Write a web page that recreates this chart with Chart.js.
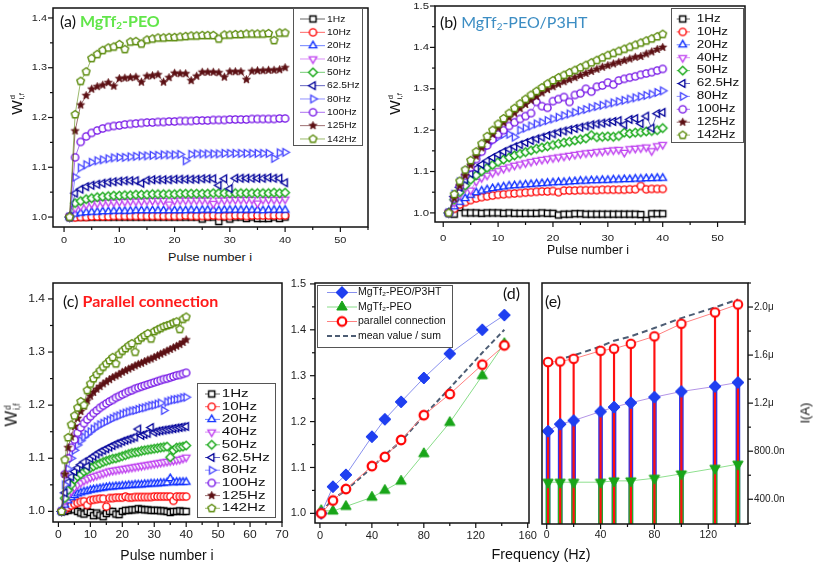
<!DOCTYPE html>
<html>
<head>
<meta charset="utf-8">
<script src="https://cdn.jsdelivr.net/npm/chart.js@4.4.1/dist/chart.umd.min.js"></script>
<style>
  body { margin: 0; background: #fff; width: 813px; height: 562px; position: relative; overflow: hidden;
         font-family: "Liberation Sans", Arial, sans-serif; color: #111; }
  canvas { position: absolute; }
  .c { position: absolute; white-space: nowrap; line-height: 1; transform: translate(-50%, -50%); }
  .c span { display: inline-block; }
  .ttl { position: absolute; white-space: nowrap; line-height: 1; transform: translateY(-50%);
         font-family: Lato, "Open Sans", sans-serif; font-size: 16px; }
  .ttl sub { font-size: 0.62em; vertical-align: -0.25em; }
  .yl { position: absolute; white-space: nowrap; line-height: 1; transform: translate(-50%, -50%) rotate(-90deg); }
  .ss { display: inline-block; vertical-align: middle; font-size: 0.5em; line-height: 1.1; margin-left: 1px; }
</style>
</head>
<body>
<canvas id="ca" width="380" height="250" style="left:0;top:0"></canvas>
<canvas id="cb" width="360" height="245" style="left:390px;top:0"></canvas>
<canvas id="cc" width="290" height="285" style="left:0;top:270px"></canvas>
<canvas id="cd" width="262" height="275" style="left:280px;top:270px"></canvas>
<canvas id="ce" width="277" height="275" style="left:536px;top:270px"></canvas>

<div class="ttl" style="left:60px;top:22px">(a) <b style="color:#62e64a">MgTf<sub>2</sub>-PEO</b></div>
<div class="ttl" style="left:440px;top:23px">(b) <span style="color:#3c8dc3">MgTf<sub>2</sub>-PEO/P3HT</span></div>
<div class="ttl" style="left:63px;top:301px">(c) <b style="color:#ff1a1a">Parallel connection</b></div>
<div class="ttl" style="left:503px;top:293px">(d)</div>
<div class="ttl" style="left:545px;top:301px">(e)</div>

<div class="yl" style="left:18px;top:104px;font-size:15.5px">W<span class="ss">d<br>i,f</span></div>
<div class="yl" style="left:396px;top:104px;font-size:15.5px">W<span class="ss">d<br>i,f</span></div>
<div class="yl" style="left:12px;top:415px;font-size:16.5px">W<span class="ss">d<br>i,f</span></div>
<div class="yl" style="left:805px;top:413px;font-size:13px">I(A)</div>

<div class="c" style="left:210px;top:257px;font-size:10.5px"><span style="transform:scaleX(1.2)">Pulse number i</span></div>
<div class="c" style="left:588px;top:250px;font-size:12.3px">Pulse number i</div>
<div class="c" style="left:167px;top:555px;font-size:14px">Pulse number i</div>
<div class="c" style="left:541px;top:554px;font-size:14.4px">Frequency (Hz)</div>

<script>
// ---- data ----
const pulses = [1,2,3,4,5,6,7,8,9,10,11,12,13,14,15,16,17,18,19,20,
                21,22,23,24,25,26,27,28,29,30,31,32,33,34,35,36,37,38,39,40];
const freqLabels = ['1Hz','10Hz','20Hz','40Hz','50Hz','62.5Hz','80Hz','100Hz','125Hz','142Hz'];
const freqs = [1, 10, 20, 40, 50, 62.5, 80, 100, 125, 142];

// (a) MgTf2-PEO
const peo_1 = [1.0,1.0,1.0,1.0,1.0,1.0,1.0,1.0,1.0,1.0, 1.0,1.0,1.0,1.0,1.0,1.0,1.0,1.0,1.0,1.0,
               1.0,1.0,1.0,1.0,0.996,1.0,1.0,0.991,1.0,0.996, 1.0,1.0,0.997,1.0,0.997,0.997,0.997,1.0,0.997,1.0];
const peo_10 = [1.0,0.999,1.0,1.0,1.001,1.001,1.001,1.001,1.002,1.002, 1.002,1.002,1.002,1.002,1.002,1.002,1.002,1.002,1.002,1.002,
                1.002,1.003,1.002,1.002,1.002,1.002,1.003,1.002,1.002,1.002, 1.003,1.003,1.002,1.003,1.003,1.003,1.003,1.003,1.003,1.003];
const peo_20 = [1.0,1.006,1.008,1.009,1.01,1.01,1.011,1.011,1.012,1.012, 1.012,1.012,1.013,1.013,1.013,1.013,1.013,1.013,1.013,1.013,
                1.013,1.013,1.014,1.013,1.014,1.014,1.014,1.013,1.014,1.014, 1.014,1.014,1.014,1.014,1.014,1.013,1.014,1.014,1.014,1.014];
const peo_40 = [1.0,1.018,1.022,1.025,1.027,1.028,1.029,1.03,1.03,1.031, 1.031,1.032,1.032,1.032,1.033,1.033,1.033,1.033,1.026,1.033,
                1.034,1.034,1.034,1.034,1.034,1.034,1.027,1.034,1.034,1.035, 1.035,1.035,1.035,1.035,1.028,1.035,1.035,1.035,1.035,1.036];
const peo_50 = [1.0,1.028,1.032,1.036,1.038,1.04,1.041,1.042,1.043,1.043, 1.044,1.044,1.045,1.045,1.045,1.046,1.046,1.046,1.046,1.046,
                1.047,1.047,1.047,1.047,1.047,1.047,1.048,1.048,1.048,1.048, 1.048,1.048,1.048,1.048,1.048,1.048,1.048,1.049,1.048,1.049];
const peo_62 = [1.0,1.048,1.056,1.061,1.064,1.066,1.068,1.07,1.071,1.072, 1.073,1.073,1.073,1.068,1.074,1.075,1.075,1.075,1.075,1.076,
                1.076,1.076,1.076,1.076,1.077,1.077,1.077,1.064,1.077,1.057, 1.078,1.078,1.078,1.078,1.078,1.078,1.079,1.078,1.078,1.069];
const peo_80 = [1.0,1.08,1.099,1.105,1.11,1.113,1.115,1.117,1.119,1.12, 1.12,1.121,1.122,1.123,1.123,1.124,1.124,1.125,1.125,1.125,
                1.126,1.113,1.126,1.127,1.127,1.127,1.127,1.127,1.128,1.128, 1.128,1.128,1.128,1.128,1.128,1.128,1.128,1.118,1.129,1.13];
const peo_100 = [1.0,1.12,1.151,1.162,1.169,1.174,1.178,1.181,1.183,1.184, 1.186,1.187,1.188,1.189,1.19,1.19,1.191,1.191,1.192,1.192,
                 1.193,1.193,1.193,1.194,1.194,1.194,1.195,1.195,1.195,1.196, 1.196,1.196,1.196,1.197,1.197,1.197,1.197,1.197,1.198,1.198];
const peo_125 = [1.0,1.173,1.225,1.244,1.257,1.262,1.265,1.27,1.263,1.278, 1.279,1.28,1.281,1.271,1.283,1.284,1.286,1.271,1.28,1.289,
                 1.288,1.288,1.274,1.283,1.291,1.291,1.291,1.29,1.281,1.292, 1.292,1.292,1.276,1.293,1.294,1.294,1.295,1.295,1.296,1.3];
const peo_142 = [1.0,1.206,1.273,1.292,1.319,1.327,1.335,1.34,1.342,1.347, 1.337,1.352,1.353,1.348,1.356,1.358,1.36,1.36,1.361,1.361,
                 1.362,1.363,1.364,1.364,1.365,1.365,1.365,1.358,1.366,1.366, 1.367,1.367,1.368,1.368,1.368,1.368,1.369,1.355,1.37,1.37];

// (b) MgTf2-PEO/P3HT
const p3_1 = [1.0,0.997,1.013,1.0,1.0,1.0,0.999,1.0,1.0,1.0, 0.999,1.0,0.999,0.999,0.999,0.999,0.999,1.0,0.999,0.999,
              0.995,0.997,0.997,0.998,0.998,0.997,0.997,0.997,0.997,0.997, 0.997,0.997,0.997,0.997,0.997,0.996,0.982,0.998,0.998,0.998];
const p3_10 = [1.0,1.01,1.02,1.026,1.031,1.035,1.038,1.04,1.042,1.044, 1.045,1.046,1.047,1.048,1.049,1.05,1.051,1.052,1.052,1.053,
               1.05,1.054,1.054,1.054,1.055,1.055,1.055,1.055,1.056,1.056, 1.056,1.056,1.056,1.057,1.057,1.065,1.057,1.058,1.058,1.058];
const p3_20 = [1.0,1.015,1.026,1.035,1.043,1.049,1.053,1.056,1.059,1.061, 1.063,1.065,1.066,1.067,1.068,1.069,1.07,1.071,1.072,1.073,
               1.074,1.074,1.075,1.076,1.077,1.077,1.078,1.078,1.079,1.079, 1.08,1.08,1.081,1.081,1.082,1.082,1.083,1.083,1.084,1.084];
const p3_40 = [1.0,1.025,1.043,1.06,1.055,1.076,1.085,1.091,1.097,1.102, 1.107,1.111,1.115,1.118,1.121,1.124,1.127,1.129,1.131,1.133,
               1.135,1.137,1.139,1.141,1.143,1.145,1.146,1.148,1.149,1.151, 1.152,1.153,1.146,1.155,1.156,1.157,1.159,1.15,1.162,1.165];
const p3_50 = [1.0,1.032,1.05,1.066,1.08,1.091,1.101,1.109,1.116,1.123, 1.129,1.134,1.139,1.143,1.147,1.151,1.155,1.158,1.161,1.164,
               1.167,1.17,1.172,1.175,1.178,1.18,1.188,1.183,1.184,1.185, 1.184,1.186,1.194,1.192,1.194,1.195,1.197,1.198,1.2,1.205];
const p3_62 = [1.0,1.04,1.062,1.08,1.095,1.107,1.117,1.126,1.134,1.141, 1.148,1.154,1.16,1.165,1.17,1.175,1.179,1.183,1.187,1.191,
               1.195,1.198,1.201,1.204,1.207,1.21,1.213,1.215,1.217,1.219, 1.221,1.223,1.213,1.226,1.228,1.216,1.234,1.205,1.24,1.243];
const p3_80 = [1.0,1.045,1.075,1.1,1.12,1.138,1.153,1.165,1.175,1.183, 1.19,1.19,1.183,1.2,1.205,1.21,1.215,1.219,1.223,1.227,
               1.231,1.235,1.239,1.243,1.247,1.25,1.254,1.257,1.26,1.263, 1.266,1.269,1.272,1.275,1.278,1.281,1.284,1.287,1.291,1.295];
const p3_100 = [1.0,1.035,1.065,1.09,1.11,1.13,1.148,1.163,1.177,1.19, 1.2,1.21,1.219,1.227,1.234,1.241,1.268,1.258,1.254,1.27,
                1.275,1.28,1.268,1.285,1.289,1.3,1.293,1.305,1.308,1.315, 1.31,1.32,1.324,1.327,1.33,1.334,1.337,1.34,1.344,1.348];
const p3_125 = [1.0,1.035,1.065,1.09,1.115,1.137,1.157,1.175,1.19,1.205, 1.218,1.23,1.241,1.252,1.262,1.272,1.281,1.29,1.298,1.305,
                1.311,1.317,1.322,1.327,1.332,1.337,1.342,1.347,1.352,1.356, 1.36,1.364,1.368,1.372,1.376,1.378,1.384,1.389,1.395,1.4];
const p3_142 = [1.0,1.045,1.077,1.104,1.127,1.148,1.167,1.185,1.2,1.215, 1.228,1.241,1.253,1.264,1.275,1.285,1.294,1.303,1.312,1.32,
                1.327,1.333,1.339,1.345,1.351,1.357,1.363,1.369,1.375,1.381, 1.386,1.391,1.396,1.401,1.406,1.411,1.416,1.421,1.426,1.432];

// (c) parallel connection
const par_1 = [1.0,1.0,1.002,1.005,1.003,1.0,0.997,0.995,1.0,0.998, 0.992,0.997,0.993,0.99,0.996,1.0,1.0,0.995,0.994,1.0,
               1.002,1.002,1.003,1.003,1.005,1.004,1.003,1.003,1.002,1.002, 1.002,1.001,1.001,1.0,0.998,1.0,1.0,1.001,1.0,1.0];
const par_10 = [1.0,1.004,1.008,1.011,1.014,1.016,1.018,1.019,1.012,1.021, 1.022,1.023,1.024,1.024,1.009,1.025,1.025,1.026,1.026,1.026,
                1.028,1.026,1.026,1.027,1.027,1.027,1.027,1.027,1.027,1.028, 1.028,1.028,1.028,1.028,1.028,1.02,1.028,1.028,1.028,1.028];
const par_20 = [1.0,1.012,1.02,1.026,1.03,1.033,1.035,1.037,1.038,1.04, 1.041,1.042,1.043,1.044,1.045,1.046,1.046,1.047,1.047,1.048,
                1.048,1.049,1.049,1.05,1.05,1.05,1.051,1.051,1.052,1.052, 1.052,1.053,1.053,1.054,1.062,1.054,1.055,1.055,1.055,1.055];
const par_40 = [1.0,1.02,1.03,1.038,1.045,1.05,1.054,1.058,1.061,1.064, 1.066,1.068,1.07,1.072,1.074,1.076,1.077,1.078,1.079,1.08,
                1.081,1.082,1.083,1.084,1.085,1.086,1.087,1.088,1.089,1.09, 1.091,1.092,1.093,1.094,1.095,1.096,1.097,1.098,1.1,1.102];
const par_50 = [1.0,1.025,1.04,1.05,1.06,1.066,1.07,1.075,1.078,1.082, 1.085,1.088,1.09,1.093,1.095,1.097,1.099,1.1,1.102,1.104,
                1.106,1.108,1.11,1.111,1.112,1.114,1.115,1.116,1.117,1.118, 1.119,1.12,1.121,1.122,1.102,1.115,1.12,1.121,1.122,1.124];
const par_62 = [1.0,1.035,1.055,1.065,1.075,1.082,1.088,1.093,1.085,1.1, 1.104,1.108,1.112,1.115,1.118,1.121,1.124,1.127,1.129,1.132,
                1.134,1.136,1.138,1.14,1.155,1.143,1.145,1.147,1.158,1.149, 1.151,1.152,1.153,1.154,1.155,1.156,1.157,1.158,1.159,1.16];
const par_80 = [1.0,1.05,1.08,1.1,1.115,1.125,1.133,1.14,1.145,1.15, 1.155,1.159,1.163,1.166,1.169,1.172,1.175,1.178,1.18,1.183,
                1.185,1.187,1.189,1.19,1.192,1.194,1.195,1.197,1.199,1.2, 1.202,1.204,1.19,1.206,1.208,1.21,1.211,1.212,1.214,1.215];
const par_100 = [1.0,1.07,1.1,1.12,1.135,1.148,1.158,1.166,1.173,1.179, 1.185,1.19,1.195,1.199,1.203,1.207,1.21,1.214,1.217,1.22,
                 1.223,1.226,1.228,1.231,1.233,1.235,1.237,1.239,1.241,1.243, 1.245,1.247,1.249,1.25,1.252,1.254,1.256,1.257,1.259,1.261];
const par_125 = [1.0,1.07,1.12,1.14,1.16,1.175,1.188,1.198,1.208,1.217, 1.224,1.23,1.235,1.24,1.244,1.248,1.252,1.255,1.258,1.262,
                 1.265,1.268,1.271,1.274,1.277,1.279,1.282,1.285,1.287,1.29, 1.293,1.296,1.299,1.302,1.305,1.308,1.311,1.314,1.318,1.323];
const par_142 = [1.0,1.097,1.139,1.163,1.18,1.195,1.207,1.2,1.228,1.24, 1.25,1.258,1.265,1.272,1.278,1.284,1.29,1.278,1.296,1.302,
                 1.307,1.312,1.316,1.3,1.322,1.327,1.331,1.335,1.325,1.339, 1.342,1.345,1.348,1.35,1.352,1.355,1.357,1.343,1.362,1.366];

// (d) final W vs frequency
const d_p3ht = [1.0, 1.058, 1.084, 1.167, 1.205, 1.243, 1.295, 1.348, 1.40, 1.432];
const d_peo  = [1.006, 1.005, 1.015, 1.035, 1.05, 1.07, 1.13, 1.198, 1.30, 1.37];
const d_par  = [1.0, 1.028, 1.053, 1.103, 1.123, 1.16, 1.214, 1.26, 1.324, 1.366];
const d_mean = [1.003, 1.031, 1.05, 1.10, 1.127, 1.157, 1.213, 1.273, 1.35, 1.40];

// (e) current, in microamps
const e_par  = [1.542, 1.547, 1.569, 1.636, 1.653, 1.694, 1.756, 1.861, 1.955, 2.022];
const e_p3ht = [0.967, 1.025, 1.055, 1.13, 1.167, 1.203, 1.25, 1.297, 1.339, 1.372];
const e_peo  = [0.542, 0.542, 0.542, 0.542, 0.553, 0.553, 0.575, 0.611, 0.658, 0.692];
const e_sum  = [1.509, 1.567, 1.597, 1.672, 1.72, 1.756, 1.825, 1.908, 1.997, 2.064];

// ---- styles ----
const looks = [
  { shape: 'square', color: '#000000' },
  { shape: 'circle', color: '#ff0000' },
  { shape: 'up', color: '#1030ff' },
  { shape: 'down', color: '#c044f0' },
  { shape: 'diamond', color: '#17a817' },
  { shape: 'left', color: '#00009a' },
  { shape: 'right', color: '#4848ff' },
  { shape: 'circle', color: '#7412e6' },
  { shape: 'star', color: '#5c1014', fill: true },
  { shape: 'pent', color: '#5a8a0a' }
];

function mk(shape, color, r, lw, filled) {
  const s = Math.ceil(2 * r * 1.3 + lw + 2);
  const c = document.createElement('canvas');
  c.width = s; c.height = s;
  const g = c.getContext('2d');
  const m = s / 2;
  const poly = (n, rr, a0, inner) => {
    const k = inner ? n * 2 : n;
    for (let j = 0; j < k; j++) {
      const rad = (a0 + j * 360 / k) * Math.PI / 180;
      const q = inner && j % 2 ? rr * inner : rr;
      const px = m + q * Math.cos(rad), py = m + q * Math.sin(rad);
      j ? g.lineTo(px, py) : g.moveTo(px, py);
    }
    g.closePath();
  };
  g.beginPath();
  if (shape === 'circle') g.arc(m, m, r, 0, Math.PI * 2);
  else if (shape === 'square') g.rect(m - r * 0.85, m - r * 0.85, r * 1.7, r * 1.7);
  else if (shape === 'up') poly(3, r * 1.2, -90);
  else if (shape === 'down') poly(3, r * 1.2, 90);
  else if (shape === 'left') poly(3, r * 1.2, 180);
  else if (shape === 'right') poly(3, r * 1.2, 0);
  else if (shape === 'diamond') poly(4, r * 1.2, -90);
  else if (shape === 'pent') poly(5, r * 1.1, -90);
  else if (shape === 'star') poly(5, r * 1.15, -90, 0.45);
  g.fillStyle = filled ? color : '#fff';
  g.fill();
  g.lineWidth = filled && shape === 'star' ? 0.8 : lw;
  g.strokeStyle = color;
  g.stroke();
  return c;
}

const pts = (xs, ys) => xs.map((x, i) => ({ x: x, y: ys[i] }));

function pulseSets(arrs, r) {
  return arrs.map((ys, i) => ({
    label: freqLabels[i],
    data: pts(pulses, ys),
    borderColor: looks[i].color + '99',
    borderWidth: 1,
    pointStyle: mk(looks[i].shape, looks[i].color, r, 1.4, looks[i].fill),
    pointRadius: r,
    order: -i
  }));
}

function scale(min, max, step, pos) {
  return {
    type: 'linear', position: pos, min: min, max: max, offset: false,
    ticks: { display: false, stepSize: step, includeBounds: false },
    grid: { display: false }, border: { display: false },
    afterFit: s => { if (s.isHorizontal()) s.height = 0; else s.width = 0; }
  };
}

// frame, tick marks and tick labels
function axesPlugin(axes) {
  return {
    id: 'axesDraw',
    afterDraw(chart) {
      const { ctx, chartArea: a, scales } = chart;
      ctx.save();
      ctx.strokeStyle = '#111';
      ctx.lineWidth = 1.5;
      ctx.strokeRect(a.left, a.top, a.right - a.left, a.bottom - a.top);
      axes.forEach(ax => {
        const s = scales[ax.id];
        const base = ax.side === 'bottom' ? a.bottom : ax.side === 'left' ? a.left : a.right;
        const dir = ax.side === 'left' ? -1 : 1;
        const mark = (p, len) => {
          ctx.beginPath();
          if (ax.side === 'bottom') { ctx.moveTo(p, base); ctx.lineTo(p, base + len); }
          else { ctx.moveTo(base, p); ctx.lineTo(base + dir * len, p); }
          ctx.stroke();
        };
        ctx.lineWidth = 1.2;
        ctx.strokeStyle = '#111';
        const majors = s.ticks.map(t => t.value);
        majors.forEach(v => mark(s.getPixelForValue(v), 5));
        for (let v = Math.ceil(s.min / ax.minor) * ax.minor; v <= s.max; v += ax.minor) {
          if (majors.some(m => Math.abs(m - v) < ax.minor / 100)) continue;
          mark(s.getPixelForValue(v), 3);
        }
        ctx.fillStyle = '#222';
        ctx.font = ax.font;
        ctx.textBaseline = 'middle';
        majors.forEach(v => {
          const p = s.getPixelForValue(v);
          ctx.save();
          if (ax.side === 'bottom') { ctx.translate(p, base + ax.off); ctx.textAlign = 'center'; }
          else if (ax.side === 'left') { ctx.translate(base - ax.off, p); ctx.textAlign = 'right'; }
          else { ctx.translate(base + ax.off, p); ctx.textAlign = 'left'; }
          ctx.scale(ax.sx || 1, 1);
          ctx.fillText(ax.fmt(v), 0, 0);
          ctx.restore();
        });
      });
      ctx.restore();
    }
  };
}

function boxLegend(cfg) {
  return {
    id: 'boxLegend',
    afterDraw(chart) {
      const ctx = chart.ctx;
      ctx.save();
      ctx.fillStyle = '#fff';
      ctx.fillRect(cfg.x, cfg.y, cfg.w, cfg.h);
      ctx.strokeStyle = '#555';
      ctx.lineWidth = 1;
      ctx.strokeRect(cfg.x + 0.5, cfg.y + 0.5, cfg.w, cfg.h);
      chart.data.datasets.filter(ds => !ds.noLegend).forEach((ds, i) => {
        const yy = cfg.row0 + i * cfg.rowH;
        ctx.strokeStyle = ds.borderColor;
        ctx.lineWidth = ds.borderWidth || 1;
        ctx.setLineDash(ds.borderDash || []);
        ctx.beginPath(); ctx.moveTo(cfg.l0, yy); ctx.lineTo(cfg.l1, yy); ctx.stroke();
        ctx.setLineDash([]);
        const im = ds.pointStyle;
        if (im && typeof im === 'object') ctx.drawImage(im, cfg.mx - im.width / 2, yy - im.height / 2);
        ctx.save();
        ctx.translate(cfg.tx, yy);
        ctx.scale(cfg.sx || 1, 1);
        ctx.font = cfg.font;
        ctx.fillStyle = '#111';
        ctx.textBaseline = 'middle';
        ctx.textAlign = 'left';
        ctx.fillText(ds.label, 0, 0);
        ctx.restore();
      });
      ctx.restore();
    }
  };
}

function makeChart(id, pad, scales, datasets, plugins) {
  return new Chart(document.getElementById(id), {
    type: 'line',
    data: { datasets: datasets },
    options: {
      responsive: false, animation: false, devicePixelRatio: 1,
      layout: { padding: pad },
      plugins: { legend: { display: false }, tooltip: { enabled: false } },
      scales: scales
    },
    plugins: plugins
  });
}

const f1 = v => v.toFixed(1);
const f0 = v => String(Math.round(v));
const fA = v => v >= 1 ? v.toFixed(1) + 'μ' : (v * 1000).toFixed(1) + 'n';
const smallFont = '9.5px "Liberation Sans", Arial, sans-serif';

// (a)
makeChart('ca', { left: 53, top: 8, right: 12, bottom: 23 },
  { x: scale(-2, 55, 10, 'bottom'), y: scale(0.98, 1.42, 0.1, 'left') },
  pulseSets([peo_1, peo_10, peo_20, peo_40, peo_50, peo_62, peo_80, peo_100, peo_125, peo_142], 3.6),
  [axesPlugin([
     { id: 'x', side: 'bottom', font: smallFont, sx: 1.15, off: 13, minor: 5, fmt: f0 },
     { id: 'y', side: 'left', font: smallFont, sx: 1.15, off: 6, minor: 0.05, fmt: f1 }]),
   boxLegend({ x: 293, y: 8, w: 69, h: 137, row0: 19, rowH: 13.33, l0: 300, l1: 325, mx: 313, tx: 327,
               font: '9.8px "Liberation Sans", Arial, sans-serif', sx: 1.05 })]);

// (b)
makeChart('cb', { left: 45, top: 6, right: 4, bottom: 23 },
  { x: scale(-1.5, 55, 10, 'bottom'), y: scale(0.978, 1.5, 0.1, 'left') },
  pulseSets([p3_1, p3_10, p3_20, p3_40, p3_50, p3_62, p3_80, p3_100, p3_125, p3_142], 3.6),
  [axesPlugin([
     { id: 'x', side: 'bottom', font: smallFont, sx: 1.2, off: 16, minor: 5, fmt: f0 },
     { id: 'y', side: 'left', font: smallFont, sx: 1.2, off: 6, minor: 0.05, fmt: f1 }]),
   boxLegend({ x: 281, y: 8, w: 72, h: 134, row0: 19, rowH: 12.9, l0: 286.7, l1: 300, mx: 292.7, tx: 306.7,
               font: '10.5px "Liberation Sans", Arial, sans-serif', sx: 1.28 })]);

// (c)
makeChart('cc', { left: 53, top: 13, right: 8, bottom: 33 },
  { x: scale(-1.7, 70, 10, 'bottom'), y: scale(0.98, 1.43, 0.1, 'left') },
  pulseSets([par_1, par_10, par_20, par_40, par_50, par_62, par_80, par_100, par_125, par_142], 3.6),
  [axesPlugin([
     { id: 'x', side: 'bottom', font: '10.5px "Liberation Sans", Arial, sans-serif', sx: 1.15, off: 13, minor: 5, fmt: f0 },
     { id: 'y', side: 'left', font: '10.5px "Liberation Sans", Arial, sans-serif', sx: 1.15, off: 8, minor: 0.05, fmt: f1 }]),
   boxLegend({ x: 197, y: 113, w: 78, h: 134, row0: 124, rowH: 12.7, l0: 205, l1: 220, mx: 211.7, tx: 221.7,
               font: '11px "Liberation Sans", Arial, sans-serif', sx: 1.38 })]);

// (d)
makeChart('cd', { left: 35, top: 13, right: 13, bottom: 22 },
  { x: scale(-3.8, 161, 40, 'bottom'), y: scale(0.979, 1.502, 0.1, 'left') },
  [
    { label: 'MgTf₂-PEO/P3HT', data: pts(freqs, d_p3ht), borderColor: '#8890ee', borderWidth: 1,
      pointStyle: mk('diamond', '#1f3ff0', 5, 1, true), pointRadius: 5, order: 1 },
    { label: 'MgTf₂-PEO', data: pts(freqs, d_peo), borderColor: '#88dd88', borderWidth: 1,
      pointStyle: mk('up', '#19a519', 5, 1, true), pointRadius: 5, order: 2 },
    { label: 'parallel connection', data: pts(freqs, d_par), borderColor: '#ff8080', borderWidth: 1,
      pointStyle: mk('circle', '#ff0000', 4.3, 2.2, false), pointRadius: 5, order: 0 },
    { label: 'mean value / sum', data: pts(freqs, d_mean), borderColor: '#4d5d74', borderWidth: 2,
      borderDash: [5, 3], pointRadius: 0, order: 3 }
  ],
  [axesPlugin([
     { id: 'x', side: 'bottom', font: '11px "Liberation Sans", Arial, sans-serif', off: 12.5, minor: 20, fmt: f0 },
     { id: 'y', side: 'left', font: '11px "Liberation Sans", Arial, sans-serif', off: 9, minor: 0.05, fmt: f1 }]),
   boxLegend({ x: 37, y: 15, w: 135, h: 62, row0: 22.5, rowH: 14.5, l0: 47, l1: 77, mx: 62, tx: 78,
               font: '10.5px "Liberation Sans", Arial, sans-serif' })]);

// (e)
makeChart('ce', { left: 6, top: 13, right: 65, bottom: 21 },
  { x: scale(-3.5, 149.5, 40, 'bottom'), y: scale(0.194, 2.2, 0.4, 'right') },
  [
    { label: 'parallel', data: pts(freqs, e_par), borderColor: '#ff8080', borderWidth: 1,
      pointStyle: mk('circle', '#ff0000', 4.3, 2, false), pointRadius: 5, order: 0 },
    { label: 'P3HT', data: pts(freqs, e_p3ht), borderColor: '#b394e6', borderWidth: 1,
      pointStyle: mk('diamond', '#1f3ff0', 5, 1, true), pointRadius: 5, order: 1 },
    { label: 'PEO', data: pts(freqs, e_peo), borderColor: '#8fe08f', borderWidth: 1,
      pointStyle: mk('down', '#19a519', 5, 1, true), pointRadius: 5, order: 2 },
    { label: 'sum', data: pts(freqs, e_sum), borderColor: '#4d5d74', borderWidth: 2,
      borderDash: [6, 4], pointRadius: 0, order: 3 },
    { type: 'bar', label: 'par drop', data: pts(freqs, e_par), backgroundColor: '#ff1010',
      barThickness: 1.5, grouped: false, order: 4 },
    { type: 'bar', label: 'peo drop', data: pts(freqs, e_peo), backgroundColor: '#22b022',
      barThickness: 4, grouped: false, order: 5 },
    { type: 'bar', label: 'p3ht drop', data: pts(freqs, e_p3ht), backgroundColor: '#3434e6',
      barThickness: 4, grouped: false, order: 6 }
  ],
  [axesPlugin([
     { id: 'x', side: 'bottom', font: '10.5px "Liberation Sans", Arial, sans-serif', off: 11.5, minor: 20, fmt: f0 },
     { id: 'y', side: 'right', font: '10px "Liberation Sans", Arial, sans-serif', off: 6, minor: 0.2, fmt: fA }])]);
</script>
</body>
</html>
